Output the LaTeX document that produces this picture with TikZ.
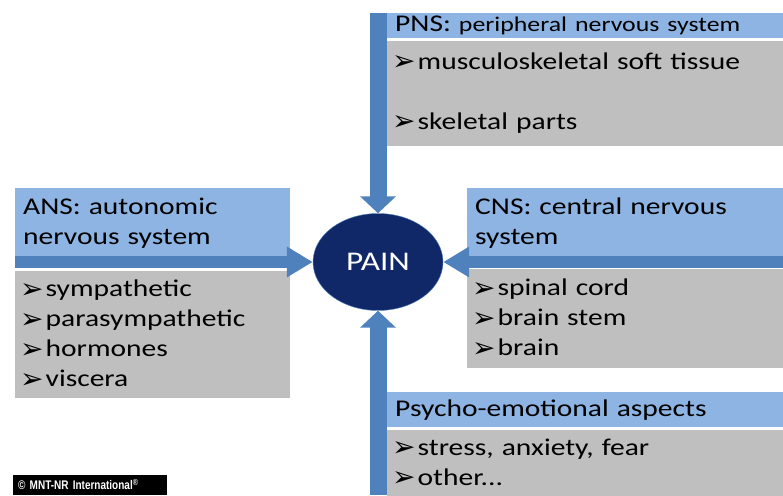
\documentclass[tikz,border=0pt]{standalone}
\usepackage{fontspec}
\setmainfont{Carlito}
\newfontfamily\boxfont[FakeStretch=1.23]{Carlito}
\newfontfamily\symfont{DejaVu Sans}
\newfontfamily\copyfont[FakeStretch=0.8]{Liberation Sans}
\usetikzlibrary{positioning,arrows.meta,shapes.geometric}
\definecolor{headblue}{RGB}{141,180,226}
\definecolor{boxgrey}{RGB}{191,191,191}
\definecolor{arrowblue}{RGB}{79,129,189}
\definecolor{painnavy}{RGB}{16,40,104}
\newcommand{\itm}{\raisebox{-1.5pt}{\symfont\fontsize{28}{30}\selectfont ➢}\hspace{2pt}}
\begin{document}
\begin{tikzpicture}
  [x=1pt,y=1pt,
   head/.style={fill=headblue,anchor=north west,inner xsep=8pt,inner ysep=0pt,align=left,font=\boxfont\fontsize{24}{30}\selectfont},
   body/.style={fill=boxgrey,anchor=north west,inner xsep=5pt,inner ysep=0pt,align=left,font=\boxfont\fontsize{24}{30}\selectfont},
   vflow/.style={draw=arrowblue,line width=17pt,-{Triangle[width=35pt,length=17pt]}},
   hflow/.style={draw=arrowblue,line width=12pt,-{Triangle[width=29pt,length=26pt]}}]
  \useasboundingbox (0,0) rectangle (783,495);
  % boxes
  \node[head,text width=380pt,minimum height=25pt] (pnshead) at (387,482) {PNS: {\fontsize{21}{30}\selectfont peripheral nervous system}};
  \node[body,text width=386pt,minimum height=105pt] (pnsbody) [below right=2pt and 0pt of pnshead.south west] {\itm musculoskeletal soft tissue\\[30pt]\itm skeletal parts};
  \node[head,text width=259pt,minimum height=70pt] (anshead) at (15,307) {ANS: autonomic\\nervous system};
  \node[body,text width=265pt,minimum height=127pt] (ansbody) [below right=12pt and 0pt of anshead.south west] {\itm sympathetic\\\itm parasympathetic\\\itm hormones\\\itm viscera};
  \node[head,text width=300pt,minimum height=70pt] (cnshead) at (467,307) {CNS: central nervous\\system};
  \node[body,text width=306pt,minimum height=99pt] (cnsbody) [below right=10pt and 0pt of cnshead.south west] {\itm spinal cord\\\itm brain stem\\\itm brain};
  \node[head,text width=380pt,minimum height=35pt] (psyhead) at (387,103) {Psycho-emotional aspects};
  \node[body,text width=386pt,minimum height=66pt] (psybody) [below right=2pt and 0pt of psyhead.south west] {\itm stress, anxiety, fear\\\itm other...};
  % centre
  \node[ellipse,fill=painnavy,draw=arrowblue,minimum width=130pt,minimum height=97pt,text=white,font=\boxfont\fontsize{27}{30}\selectfont] (pain) at (378,233) {PAIN};
  % connectors
  \coordinate (top) at (378,482);
  \coordinate (bottom) at (378,0);
  \coordinate (left) at (15,233);
  \coordinate (right) at (783,233);
  \draw[vflow] (top) -- (pain);
  \draw[vflow] (bottom) -- (pain);
  \draw[hflow] (left) -- (pain);
  \draw[hflow] (right) -- (pain);
  \node[fill=black,text=white,anchor=south west,text width=144pt,minimum height=20pt,inner xsep=5pt,inner ysep=0pt,align=left,font=\copyfont\bfseries\fontsize{12.5}{14}\selectfont] (copy) at (13,0) {© MNT-NR International\textsuperscript{®}};
\end{tikzpicture}
\end{document}
